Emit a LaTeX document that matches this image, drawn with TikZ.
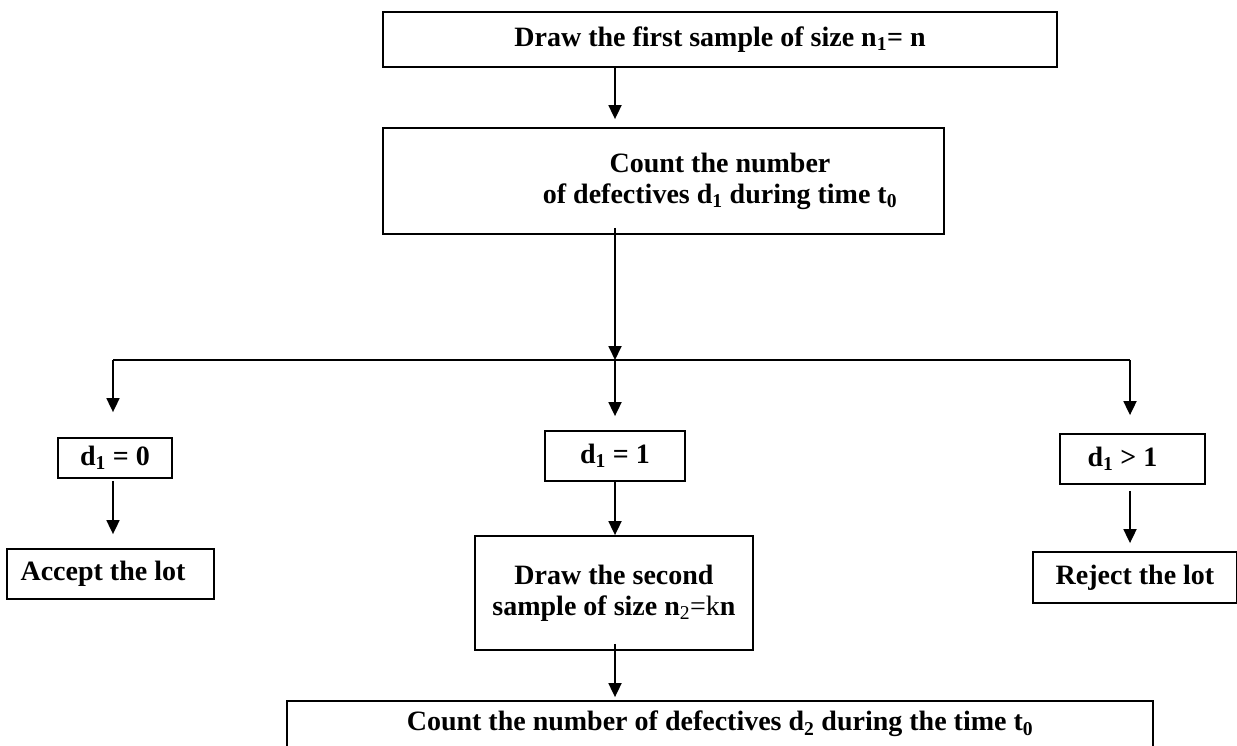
\documentclass[tikz,border=0pt]{standalone}
\usepackage{fontspec}
\setmainfont{Liberation Serif}
\usetikzlibrary{calc,arrows.meta}

\begin{document}
\begin{tikzpicture}[x=1pt,y=-1pt,
  txt/.style={font=\bfseries\fontsize{28}{31}\selectfont,align=center},
  box/.style={txt,draw,line width=1.8pt,inner sep=0pt},
  arr/.style={line width=1.8pt,-{Triangle[length=14pt,width=13pt]}}]
  \clip (0,0) rectangle (1237,745);

  %% First stage
  \node[box,minimum width=674pt,minimum height=55pt] (first) at (720,39.5)
    {Draw the first sample of size n\textsubscript{1}= n};
  \node[box,minimum width=561pt,minimum height=106pt,
    label={[txt,xshift=56.5pt]center:{Count the number\\of defectives d\textsubscript{1} during time t\textsubscript{0}}}]
    (count1) at (663.5,181) {};

  %% Splitting bar
  \coordinate (mid)  at (615,360);
  \coordinate (barL) at (113,360);
  \coordinate (barR) at (1130,360);

  %% The three outcomes
  \node[box,minimum width=114pt,minimum height=40pt] (zero) at (115,458)
    {d\textsubscript{1} = 0};
  \node[box,minimum width=140pt,minimum height=50pt] (one) at (615,456)
    {d\textsubscript{1} = 1};
  \node[box,minimum width=145pt,minimum height=50pt,
    label={[txt,xshift=-10pt]center:{d\textsubscript{1} > 1}}] (more) at (1132.5,459) {};

  \node[box,minimum width=207pt,minimum height=50pt,
    label={[txt,xshift=-7.5pt]center:{Accept the lot}}] (accept) at (110.5,574) {};
  \node[box,minimum width=278pt,minimum height=114pt] (second) at (614,593)
    {Draw the second\\sample of size n\textsubscript{\mdseries 2}{\mdseries =k}n};
  \node[box,minimum width=204pt,minimum height=51pt] (reject) at (1135,577.5)
    {Reject the lot};

  %% Second stage
  \node[box,minimum width=866pt,minimum height=46pt] (count2) at (720,724)
    {Count the number of defectives d\textsubscript{2} during the time t\textsubscript{0}};

  %% Connectors
  \draw[arr] (first.south -| mid) -- ($(count1.north -| mid)+(0,-8)$);
  \draw[arr] ($(count1.south -| mid)+(0,-7)$) -- (mid);
  \draw[line width=1.8pt] (barL) -- (barR);
  \draw[arr] (barL) -- ($(zero.north -| barL)+(0,-25)$);
  \draw[arr] (mid) -- ($(one.north)+(0,-14)$);
  \draw[arr] (barR) -- ($(more.north -| barR)+(0,-18)$);
  \draw[arr] ($(zero.south -| barL)+(0,2)$) -- ($(accept.north -| barL)+(0,-14)$);
  \draw[arr] (one.south) -- (one.south |- second.north);
  \draw[arr] ($(more.south -| barR)+(0,6)$) -- ($(reject.north -| barR)+(0,-8)$);
  \draw[arr] ($(second.south -| mid)+(0,-7)$) -- ($(count2.north -| mid)+(0,-3)$);
\end{tikzpicture}
\end{document}
